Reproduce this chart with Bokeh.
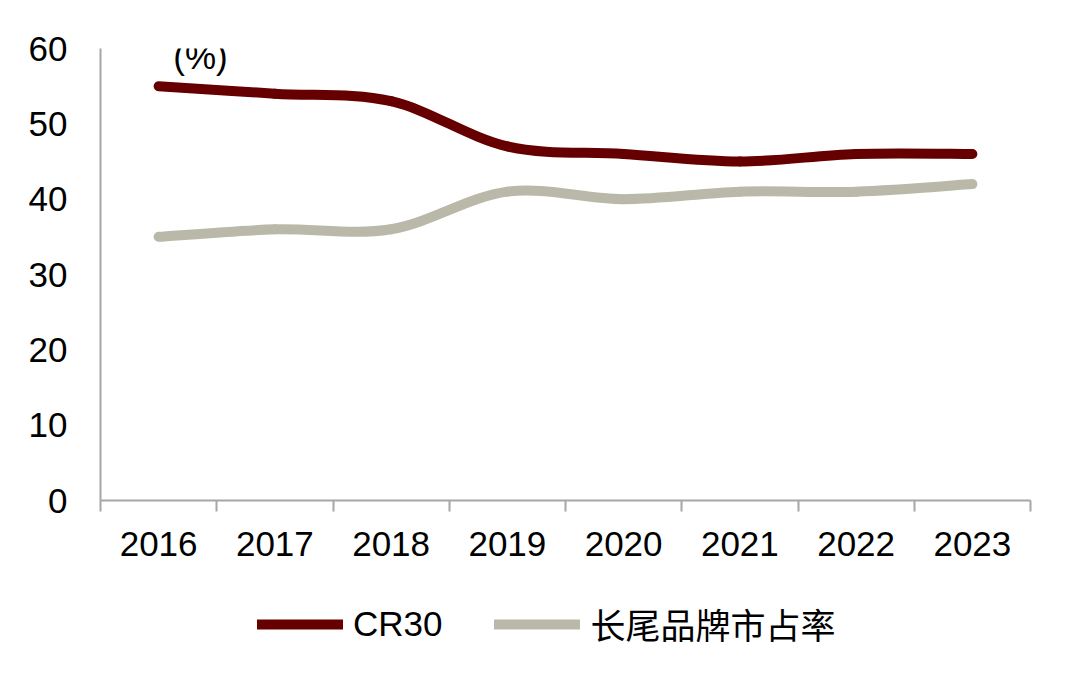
from bokeh.plotting import figure
from bokeh.layouts import column
from bokeh.models import Range1d, FixedTicker, Legend, LegendItem, Label, ColumnDataSource
from bokeh.embed import file_html
from bokeh.resources import INLINE

years = ["2016", "2017", "2018", "2019", "2020", "2021", "2022", "2023"]
cr30 = [55, 54, 53, 47, 46, 45, 46, 46]
long_tail = [35, 36, 36, 41, 40, 41, 41, 42]
series_names = ["CR30", "长尾品牌市占率"]
colors = ["#660000", "#bab9a9"]
y_ticks = [0, 10, 20, 30, 40, 50, 60]

FONT = "Liberation Sans, Noto Sans CJK SC"


def smooth_segments(vals):
    xs = list(range(len(vals)))
    n = len(vals)
    d = dict(x0=[], y0=[], x1=[], y1=[], cx0=[], cy0=[], cx1=[], cy1=[])
    for i in range(n - 1):
        im1 = max(i - 1, 0)
        ip2 = min(i + 2, n - 1)
        d["x0"].append(xs[i]); d["y0"].append(vals[i])
        d["x1"].append(xs[i + 1]); d["y1"].append(vals[i + 1])
        d["cx0"].append(xs[i] + (xs[i + 1] - xs[im1]) / 6)
        d["cy0"].append(vals[i] + (vals[i + 1] - vals[im1]) / 6)
        d["cx1"].append(xs[i + 1] - (xs[ip2] - xs[i]) / 6)
        d["cy1"].append(vals[i + 1] - (vals[ip2] - vals[i]) / 6)
    return ColumnDataSource(d)


p = figure(width=1064, height=580, output_backend="svg", toolbar_location=None,
           x_range=Range1d(-0.5, len(years) - 0.5), y_range=Range1d(0, 60),
           min_border_left=100, min_border_right=34, min_border_top=48, min_border_bottom=80)
p.outline_line_color = None
p.xgrid.visible = False
p.ygrid.visible = False

for vals, col in zip([cr30, long_tail], colors):
    src = smooth_segments(vals)
    p.bezier(x0="x0", y0="y0", x1="x1", y1="y1", cx0="cx0", cy0="cy0", cx1="cx1", cy1="cy1",
             source=src, line_color=col, line_width=10, line_cap="round")

axis_color = "#a6a6a6"
xa = p.xaxis[0]
xa.ticker = FixedTicker(ticks=list(range(len(years))),
                        minor_ticks=[i - 0.5 for i in range(len(years) + 1)])
xa.major_label_overrides = {i: y for i, y in enumerate(years)}
xa.major_tick_line_color = None
xa.minor_tick_line_color = axis_color
xa.minor_tick_line_width = 2
xa.minor_tick_out = 11
xa.minor_tick_in = 0
xa.axis_line_color = axis_color
xa.axis_line_width = 2
xa.major_label_text_font = FONT
xa.major_label_text_font_size = "35px"
xa.major_label_text_color = "#000000"
xa.major_label_standoff = 20

ya = p.yaxis[0]
ya.ticker = FixedTicker(ticks=y_ticks)
ya.major_tick_line_color = None
ya.minor_tick_line_color = None
ya.axis_line_color = axis_color
ya.axis_line_width = 2
ya.major_label_text_font = FONT
ya.major_label_text_font_size = "35px"
ya.major_label_text_color = "#000000"
ya.major_label_standoff = 27

p.add_layout(Label(x=0.36, y=59.0, text="(%)", text_align="center", text_baseline="middle",
                   text_font=FONT, text_font_size="35px", text_color="#000000"))

# legend strip below the chart; its series lines sit outside its visible range
p2 = figure(width=1064, height=106, output_backend="svg", toolbar_location=None,
            x_range=Range1d(-0.5, len(years) - 0.5), y_range=Range1d(100, 200),
            x_axis_location=None, y_axis_location=None,
            min_border_left=0, min_border_right=0, min_border_top=0, min_border_bottom=0)
p2.outline_line_color = None
p2.xgrid.visible = False
p2.ygrid.visible = False
key_renderers = []
for vals, col in zip([cr30, long_tail], colors):
    r = p2.line(x=list(range(len(years))), y=vals, line_color=col, line_width=10, line_cap="round")
    key_renderers.append(r)

legend = Legend(items=[LegendItem(label=n, renderers=[r]) for n, r in zip(series_names, key_renderers)],
                location=(157, 37), orientation="horizontal",
                glyph_width=86, glyph_height=34, label_height=34, label_standoff=10,
                spacing=52, padding=0, margin=0,
                border_line_alpha=0, background_fill_alpha=0,
                label_text_font=FONT, label_text_font_size="35px", label_text_color="#000000")
p2.add_layout(legend, "center")

layout = column(p, p2, spacing=0)
open("out.html", "w").write(file_html(layout, INLINE))
